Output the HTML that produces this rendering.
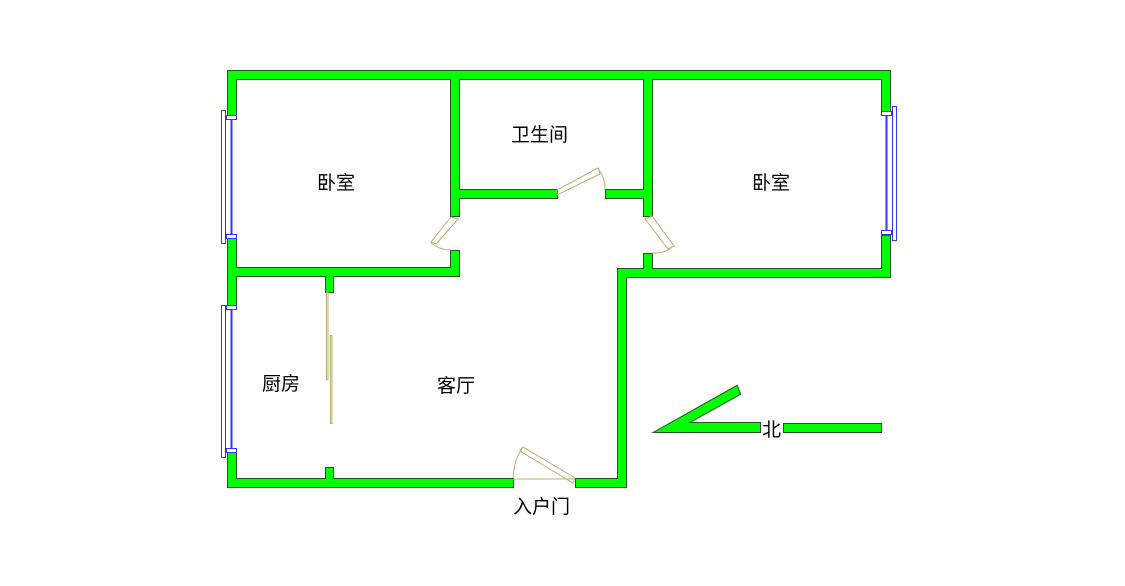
<!DOCTYPE html>
<html><head><meta charset="utf-8"><style>
html,body{margin:0;padding:0;background:#fff;width:1125px;height:586px;overflow:hidden}
text{font-family:"Liberation Sans","WenQuanYi Zen Hei","Noto Sans CJK SC",sans-serif;font-size:19px;fill:#000}
</style></head><body>
<svg width="1125" height="586" viewBox="0 0 1125 586" xmlns="http://www.w3.org/2000/svg">
<defs>
<g id="walls">
<rect x="228" y="71" width="662" height="8"/>
<rect x="228" y="71" width="8" height="44"/>
<rect x="228" y="239" width="8" height="66"/>
<rect x="228" y="453" width="8" height="34"/>
<rect x="882" y="71" width="8" height="40"/>
<rect x="882" y="236" width="8" height="41"/>
<rect x="228" y="268" width="231" height="8"/>
<rect x="451" y="71" width="8" height="145"/>
<rect x="451" y="251" width="8" height="25"/>
<rect x="451" y="190" width="106" height="8"/>
<rect x="606" y="190" width="46" height="8"/>
<rect x="644" y="71" width="8" height="145"/>
<rect x="644" y="254" width="8" height="23"/>
<rect x="618" y="269" width="272" height="8"/>
<rect x="618" y="269" width="8" height="218"/>
<rect x="228" y="479" width="285" height="8"/>
<rect x="576" y="479" width="50" height="8"/>
<rect x="326" y="268" width="7" height="24"/>
<rect x="326" y="468" width="7" height="19"/>
<polygon points="655,432 737,386 740,394 688,423 760,423 760,432"/>
<rect x="784" y="424" width="97" height="8"/>
</g>
</defs>
<use href="#walls" fill="#00ff00" stroke="#225522" stroke-width="2"/>
<use href="#walls" fill="#00ff00"/>
<!-- windows -->
<g fill="#fff" stroke="#3333ff" stroke-width="1">
<rect x="221.5" y="110.5" width="4" height="133"/>
<rect x="226.5" y="115.5" width="10" height="4"/><rect x="226.5" y="234.5" width="10" height="4"/>
<line x1="231.5" y1="119" x2="231.5" y2="234" stroke-width="2"/>
<rect x="221.5" y="305.5" width="4" height="152"/>
<rect x="226.5" y="305.5" width="10" height="4"/><rect x="226.5" y="448.5" width="10" height="4"/>
<line x1="231.5" y1="309" x2="231.5" y2="448" stroke-width="2"/>
<rect x="892.5" y="106.5" width="4" height="134"/>
<rect x="881.5" y="111.5" width="10" height="4"/><rect x="881.5" y="230.5" width="10" height="4"/>
<line x1="886.5" y1="115" x2="886.5" y2="230" stroke-width="2"/>
</g>
<!-- doors -->
<g fill="none" stroke="#b5b070" stroke-width="1">
<polygon points="451,217 458,219 436,244 431,242"/>
<path d="M431,243 Q440,250 451,250"/>
<polygon points="652,216 645,219 668,249 674,246"/>
<path d="M671,248 Q663,254 652,253"/>
<polygon points="557,190 557,195 600,174 598,168"/>
<path d="M599,170 Q605,178 605,190"/>
<polygon points="575,478 573,483 520,451 523,447"/>
<path d="M522,449 Q514,460 513,478"/>
<line x1="513" y1="479" x2="575" y2="479"/>
<rect x="326.5" y="292.5" width="1.5" height="87"/>
<rect x="330.5" y="335.5" width="1.5" height="88"/>
</g>
<text x="317" y="189">卧室</text>
<text x="511" y="141">卫生间</text>
<text x="752" y="189">卧室</text>
<text x="262" y="390">厨房</text>
<text x="437" y="392">客厅</text>
<text x="513" y="513">入户门</text>
<text x="762" y="436">北</text>
</svg>
</body></html>
